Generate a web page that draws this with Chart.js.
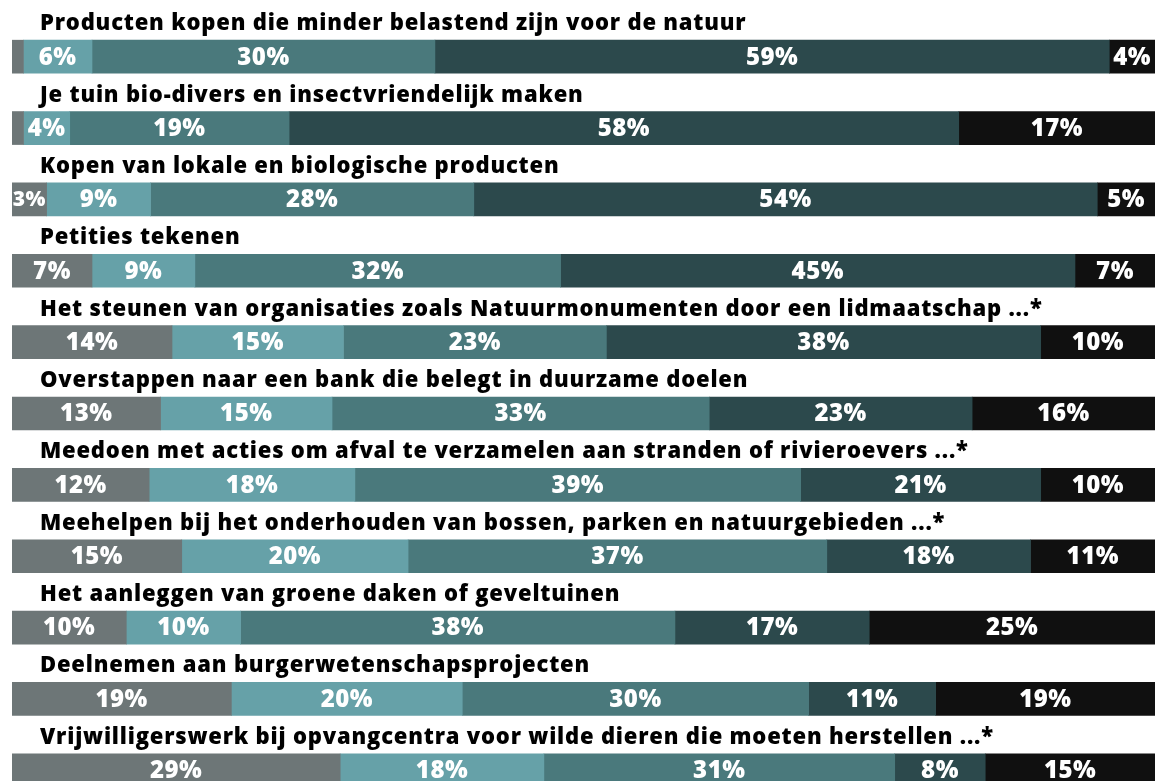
<!DOCTYPE html>
<html>
<head>
<meta charset="utf-8">
<script src="https://cdn.jsdelivr.net/npm/chart.js@4.4.1/dist/chart.umd.min.js"></script>
<style>
  html, body { margin: 0; padding: 0; background: #fff; overflow: hidden; }
  #wrap { position: relative; width: 1155px; height: 810px; }
</style>
</head>
<body>
<div id="wrap"><canvas id="chart"></canvas></div>
<script>
// vragen (titels boven elke balk)
const questions = [
    'Producten kopen die minder belastend zijn voor de natuur',
    'Je tuin bio-divers en insectvriendelijk maken',
    'Kopen van lokale en biologische producten',
    'Petities tekenen',
    'Het steunen van organisaties zoals Natuurmonumenten door een lidmaatschap ...*',
    'Overstappen naar een bank die belegt in duurzame doelen',
    'Meedoen met acties om afval te verzamelen aan stranden of rivieroevers ...*',
    'Meehelpen bij het onderhouden van bossen, parken en natuurgebieden ...*',
    'Het aanleggen van groene daken of geveltuinen',
    'Deelnemen aan burgerwetenschapsprojecten',
    'Vrijwilligerswerk bij opvangcentra voor wilde dieren die moeten herstellen ...*'
];

// percentages per antwoordcategorie
const grey  = [1, 1, 3, 7, 14, 13, 12, 15, 10, 19, 29];
const light = [6, 4, 9, 9, 15, 15, 18, 20, 10, 20, 18];
const mid   = [30, 19, 28, 32, 23, 33, 39, 37, 38, 30, 31];
const dark  = [59, 58, 54, 45, 38, 23, 21, 18, 17, 11, 8];
const black = [4, 17, 5, 7, 10, 16, 10, 11, 25, 19, 15];

const series = [grey, light, mid, dark, black];
const colors = ['#6d7677', '#66a1a8', '#4a797c', '#2c494c', '#101010'];

// afgeronde percentages tellen niet altijd op tot 100 -> balk vullen
const rowSum = questions.map((_, i) => series.reduce((s, arr) => s + arr[i], 0));

const FONT = '"Open Sans", Lato, sans-serif';

const labelsPlugin = {
    id: 'segLabels',
    afterDatasetsDraw(chart) {
        const ctx = chart.ctx;
        ctx.save();
        // percentages in de balken
        ctx.font = `800 24px ${FONT}`;
        ctx.letterSpacing = '0.5px';
        ctx.fillStyle = '#fff';
        ctx.textAlign = 'center';
        ctx.textBaseline = 'middle';
        chart.data.datasets.forEach((ds, di) => {
            const meta = chart.getDatasetMeta(di);
            meta.data.forEach((bar, i) => {
                const v = series[di][i];
                if (v < 2) return;
                const w = Math.abs(bar.x - bar.base);
                ctx.font = `800 ${w < 42 ? 21 : 24}px ${FONT}`;
                const cx = (bar.x + bar.base) / 2;
                ctx.fillText(v + '%', cx, bar.y + 1);
            });
        });
        // vraagtitels boven de balken
        ctx.font = `800 22px ${FONT}`;
        ctx.letterSpacing = '0.8px';
        ctx.fillStyle = '#000';
        ctx.textAlign = 'left';
        ctx.textBaseline = 'alphabetic';
        questions.forEach((q, i) => {
            const bar = chart.getDatasetMeta(0).data[i];
            const top = bar.y - bar.height / 2;
            ctx.fillText(q, 40, top - 10);
        });
        ctx.restore();
    }
};

new Chart(document.getElementById('chart'), {
    type: 'bar',
    data: {
        labels: questions,
        datasets: series.map((arr, si) => ({
            data: arr.map((v, i) => v / rowSum[i] * 100),
            backgroundColor: colors[si],
            borderWidth: 0,
            barThickness: 33
        }))
    },
    options: {
        indexAxis: 'y',
        responsive: true,
        maintainAspectRatio: false,
        animation: false,
        layout: { padding: { left: 12, right: 0, top: 21, bottom: 4 } },
        plugins: { legend: { display: false }, tooltip: { enabled: false } },
        scales: {
            x: { stacked: true, min: 0, max: 100, display: false },
            y: { stacked: true, display: false }
        }
    },
    plugins: [labelsPlugin]
});
</script>
</body>
</html>
